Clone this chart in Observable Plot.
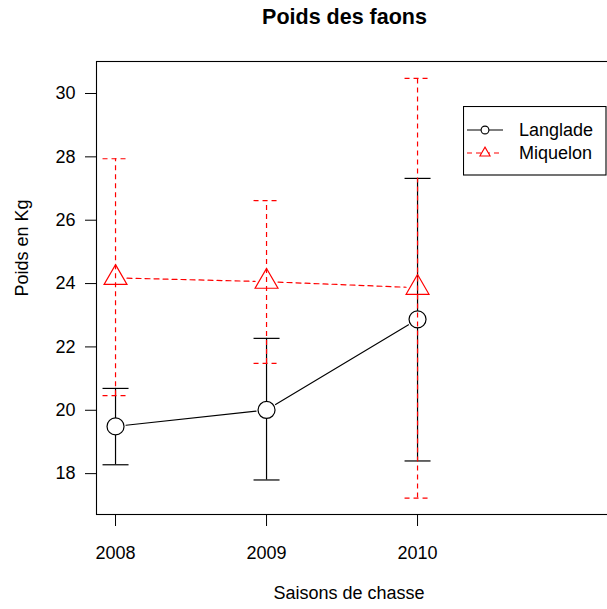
<!DOCTYPE html>
<html>
<head>
<meta charset="utf-8">
<script src="https://cdn.jsdelivr.net/npm/d3@7"></script>
<script src="https://cdn.jsdelivr.net/npm/@observablehq/plot@0.6"></script>
<style>
  html, body { margin: 0; padding: 0; overflow: hidden; background: white; }
  #wrap { position: relative; width: 607px; height: 609px; overflow: hidden; font-family: "Liberation Sans", Arial, sans-serif; }
  #title { position: absolute; left: 344.5px; top: 0; transform: translateX(-50%); white-space: nowrap;
           font-weight: bold; font-size: 21.5px; line-height: 34px; }
  #graph { position: absolute; left: 0; top: 40px; width: 607px; height: 569px; overflow: hidden; }
  #graph svg { max-width: none !important; }
  #legend { position: absolute; left: 463px; top: 106px; }
</style>
</head>
<body>
<div id="wrap">
  <div id="title">Poids des faons</div>
  <div id="graph"></div>
  <div id="legend"></div>
</div>
<script>
const years = [2008, 2009, 2010];
const langladeMean = [19.49, 20.01, 22.87];
const langladeLow = [18.28, 17.80, 18.40];
const langladeHigh = [20.69, 22.27, 27.32];
const miquelonMean = [24.18, 24.06, 23.87];
const miquelonLow = [20.46, 21.48, 17.23];
const miquelonHigh = [27.94, 26.62, 30.48];
const yTicks = [18, 20, 22, 24, 26, 28, 30];

const rows = (mean, low, high) => years.map((x, i) => ({x, mean: mean[i], low: low[i], high: high[i]}));
const segs = mean => years.slice(1).map((x, i) => ({x1: years[i], y1: mean[i], x2: x, y2: mean[i + 1]}));

const lang = rows(langladeMean, langladeLow, langladeHigh);
const miq = rows(miquelonMean, miquelonLow, miquelonHigh);

// horizontal cap for the error bars, fixed pixel width
const cap = {draw(ctx) { ctx.moveTo(-13, 0); ctx.lineTo(13, 0); }};
const dash = "5,4";

const pmarks = [];

// Langlade
pmarks.push(Plot.arrow(segs(langladeMean), {x1: "x1", y1: "y1", x2: "x2", y2: "y2",
  stroke: "black", strokeWidth: 1.1, headLength: 0, insetStart: 10.5, insetEnd: 10.5}));
pmarks.push(Plot.ruleX(lang, {x: "x", y1: "low", y2: "high", stroke: "black", strokeWidth: 1.2}));
pmarks.push(Plot.dot(lang, {x: "x", y: "low", symbol: cap, r: 5, fill: "none", stroke: "black", strokeWidth: 1.2}));
pmarks.push(Plot.dot(lang, {x: "x", y: "high", symbol: cap, r: 5, fill: "none", stroke: "black", strokeWidth: 1.2}));
pmarks.push(Plot.dot(lang, {x: "x", y: "mean", symbol: "circle", r: 8.5, fill: "white", stroke: "black", strokeWidth: 1.2}));

// Miquelon
pmarks.push(Plot.arrow(segs(miquelonMean), {x1: "x1", y1: "y1", x2: "x2", y2: "y2",
  stroke: "red", strokeWidth: 1.2, strokeDasharray: dash, headLength: 0, insetStart: 11.5, insetEnd: 11.5}));
pmarks.push(Plot.ruleX(miq, {x: "x", y1: "low", y2: "high", stroke: "red", strokeWidth: 1.2, strokeDasharray: dash}));
pmarks.push(Plot.dot(miq, {x: "x", y: "low", symbol: cap, r: 5, fill: "none", stroke: "red", strokeWidth: 1.2, strokeDasharray: dash}));
pmarks.push(Plot.dot(miq, {x: "x", y: "high", symbol: cap, r: 5, fill: "none", stroke: "red", strokeWidth: 1.2, strokeDasharray: dash}));
pmarks.push(Plot.dot(miq, {x: "x", y: "mean", symbol: "triangle", r: 8.5, fill: "none", stroke: "red", strokeWidth: 1.2}));

// axes, frame, axis titles
pmarks.push(Plot.axisY({ticks: yTicks, tickSize: 11, tickPadding: 10, fontSize: 18, label: null}));
pmarks.push(Plot.axisX({ticks: years, tickSize: 12, tickPadding: 20, fontSize: 18, tickFormat: d => String(d), label: null}));
pmarks.push(Plot.frame({stroke: "black", strokeWidth: 1.1}));
pmarks.push(Plot.text(["Saisons de chasse"], {frameAnchor: "bottom", dy: 84, dx: -9.5, fontSize: 18, fill: "black"}));
pmarks.push(Plot.text(["Poids en Kg"], {frameAnchor: "left", dx: -74, dy: 8.5, rotate: -90, fontSize: 18, fill: "black"}));

// the plot box runs past the right edge of the picture; the #graph div clips it
const plot = Plot.plot({
  width: 620,
  height: 569,
  marginTop: 21,
  marginBottom: 95,
  marginLeft: 96,
  marginRight: 0,
  x: {domain: [2007.874, 2011.344]},
  y: {domain: [16.71, 31.01]},
  style: {fontFamily: '"Liberation Sans", Arial, sans-serif', fontSize: "18px", color: "black", background: "white", maxWidth: "none"},
  marks: pmarks
});
d3.select('#graph').append(() => plot);

// legend box drawn over the plot, top right
const lg = d3.select('#legend').append('svg').attr('width', 144).attr('height', 70)
  .style('font-family', '"Liberation Sans", Arial, sans-serif');
lg.append('rect').attr('x', 0.5).attr('y', 0.5).attr('width', 142.5).attr('height', 68.5)
  .attr('fill', 'white').attr('stroke', 'black').attr('stroke-width', 1.1);
const items = [
  {name: "Langlade", color: "black", dashed: false, shape: "circle"},
  {name: "Miquelon", color: "red", dashed: true, shape: "triangle"}
];
items.forEach((it, i) => {
  const cy = 24 + i * 23;
  lg.append('line').attr('x1', 4).attr('x2', 40).attr('y1', cy).attr('y2', cy)
    .attr('stroke', it.color).attr('stroke-width', 1.1).attr('stroke-dasharray', it.dashed ? dash : null);
  if (it.shape === "circle") {
    lg.append('circle').attr('cx', 22).attr('cy', cy).attr('r', 3.9)
      .attr('fill', 'white').attr('stroke', it.color).attr('stroke-width', 1.1);
  } else {
    lg.append('path').attr('d', d3.symbol(d3.symbolTriangle, 45)()).attr('transform', `translate(22,${cy})`)
      .attr('fill', 'white').attr('stroke', it.color).attr('stroke-width', 1.1);
  }
  lg.append('text').attr('x', 56).attr('y', cy).attr('dy', '0.35em').attr('font-size', 18).text(it.name);
});
</script>
</body>
</html>
